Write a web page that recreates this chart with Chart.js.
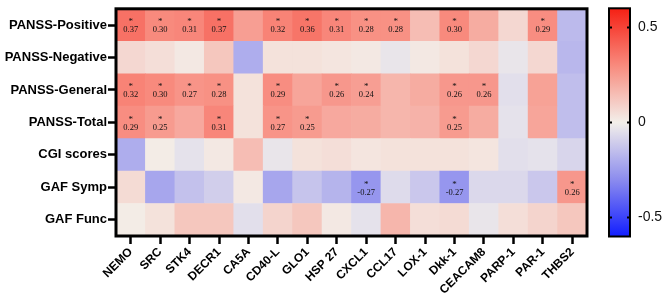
<!DOCTYPE html>
<html>
<head>
<meta charset="utf-8">
<script src="https://cdn.jsdelivr.net/npm/chart.js@4.4.1/dist/chart.umd.min.js"></script>
<style>
  html, body { margin: 0; padding: 0; background: #fff; }
</style>
</head>
<body>
<canvas id="heat" width="663" height="300"></canvas>
<script>
// genes on x, clinical scales on y (top to bottom)
const genes = ['NEMO', 'SRC', 'STK4', 'DECR1', 'CA5A', 'CD40-L', 'GLO1', 'HSP 27',
               'CXCL1', 'CCL17', 'LOX-1', 'Dkk-1', 'CEACAM8', 'PARP-1', 'PAR-1', 'THBS2'];
const clinScales = ['PANSS-Positive', 'PANSS-Negative', 'PANSS-General', 'PANSS-Total',
                    'CGI scores', 'GAF Symp', 'GAF Func'];

// correlation values per scale
const panssPositive = [0.37, 0.30, 0.31, 0.37, 0.24, 0.32, 0.36, 0.31, 0.28, 0.28, 0.15, 0.30, 0.20, 0.07, 0.29, -0.16];
const panssNegative = [0.07, 0.05, 0.02, 0.12, -0.20, 0.04, 0.04, 0.03, 0.02, -0.03, 0.02, 0.04, 0.07, -0.03, 0.07, -0.17];
const panssGeneral  = [0.32, 0.30, 0.27, 0.28, 0.04, 0.29, 0.22, 0.26, 0.24, 0.17, 0.20, 0.26, 0.26, -0.05, 0.23, -0.15];
const panssTotal    = [0.29, 0.25, 0.21, 0.31, 0.04, 0.27, 0.25, 0.21, 0.20, 0.17, 0.18, 0.25, 0.20, -0.04, 0.22, -0.15];
const cgiScores     = [-0.20, 0.01, -0.04, 0.02, 0.15, -0.03, 0.04, 0.05, 0.03, 0.04, 0.04, 0.04, 0.03, -0.05, -0.04, -0.08];
const gafSymp       = [0.06, -0.22, -0.14, -0.10, 0.02, -0.22, -0.13, -0.18, -0.27, -0.06, -0.12, -0.27, -0.07, -0.07, -0.12, 0.26];
const gafFunc       = [0.01, 0.04, 0.12, 0.12, -0.05, 0.08, 0.12, 0.02, -0.04, 0.17, 0.05, 0.06, -0.03, 0.05, 0.08, 0.12];
const rowValues = [panssPositive, panssNegative, panssGeneral, panssTotal, cgiScores, gafSymp, gafFunc];

// significant cells (shown with * and value)
const sigPositive = ['NEMO', 'SRC', 'STK4', 'DECR1', 'CD40-L', 'GLO1', 'HSP 27', 'CXCL1', 'CCL17', 'Dkk-1', 'PAR-1'];
const sigGeneral  = ['NEMO', 'SRC', 'STK4', 'DECR1', 'CD40-L', 'HSP 27', 'CXCL1', 'Dkk-1', 'CEACAM8'];
const sigTotal    = ['NEMO', 'SRC', 'DECR1', 'CD40-L', 'GLO1', 'Dkk-1'];
const sigGafSymp  = ['CXCL1', 'Dkk-1', 'THBS2'];
const rowSig = [sigPositive, [], sigGeneral, sigTotal, [], sigGafSymp, []];

// colour bar
const cbMin = -0.6, cbMax = 0.6;
const cbTicks = [0.5, 0, -0.5];

// blue - white - red colour map
const cmapStops = [
  [-0.6, [18, 30, 255]],
  [-0.3, [140, 140, 238]],
  [0.0, [243, 239, 234]],
  [0.3, [248, 138, 125]],
  [0.6, [245, 32, 20]]
];
function cmap(v) {
  v = Math.max(cbMin, Math.min(cbMax, v));
  for (let i = 0; i < cmapStops.length - 1; i++) {
    const a = cmapStops[i], b = cmapStops[i + 1];
    if (v <= b[0]) {
      const t = (v - a[0]) / (b[0] - a[0]);
      const c = a[1].map((x, k) => Math.round(x + (b[1][k] - x) * t));
      return 'rgb(' + c.join(',') + ')';
    }
  }
  return 'rgb(' + cmapStops[cmapStops.length - 1][1].join(',') + ')';
}

// stacked bars: first dataset at the bottom, so reverse the rows
const datasets = clinScales.map((name, r) => ({
  label: name,
  rowIndex: r,
  data: genes.map(() => 1),
  backgroundColor: rowValues[r].map(cmap),
  borderWidth: 0,
  barPercentage: 1,
  categoryPercentage: 1
})).reverse();

const labelFont = { family: 'Liberation Sans, Arial, sans-serif', size: 13, weight: 'bold' };

const heatPlugin = {
  id: 'heatExtras',
  afterDatasetsDraw(chart) {
    const ctx = chart.ctx;
    const area = chart.chartArea;
    // cell annotations
    ctx.save();
    ctx.fillStyle = '#111';
    ctx.textAlign = 'center';
    ctx.textBaseline = 'middle';
    chart.data.datasets.forEach((ds, di) => {
      const meta = chart.getDatasetMeta(di);
      const r = ds.rowIndex;
      meta.data.forEach((bar, gi) => {
        if (rowSig[r].indexOf(genes[gi]) < 0) return;
        const cy = (bar.y + bar.base) / 2;
        ctx.font = '9px "Liberation Serif", "Times New Roman", serif';
        ctx.fillText('*', bar.x, cy - 3);
        ctx.font = '8.5px "Liberation Serif", "Times New Roman", serif';
        ctx.fillText(rowValues[r][gi].toFixed(2), bar.x, cy + 5);
      });
    });
    ctx.restore();

    // frame
    ctx.save();
    ctx.strokeStyle = '#000';
    ctx.lineWidth = 3;
    ctx.strokeRect(area.left, area.top, area.right - area.left, area.bottom - area.top);
    ctx.restore();

    // colour bar
    const cbLeft = area.right + 22, cbW = 21;
    const cbTop = area.top - 0.5, cbBot = area.bottom + 0.5;
    const yOf = v => cbTop + (cbMax - v) / (cbMax - cbMin) * (cbBot - cbTop);
    ctx.save();
    const grad = ctx.createLinearGradient(0, cbTop, 0, cbBot);
    for (let i = 0; i <= 24; i++) {
      const v = cbMax - (cbMax - cbMin) * i / 24;
      grad.addColorStop(i / 24, cmap(v));
    }
    ctx.fillStyle = grad;
    ctx.fillRect(cbLeft, cbTop, cbW, cbBot - cbTop);
    ctx.strokeStyle = '#000';
    ctx.lineWidth = 2;
    ctx.strokeRect(cbLeft, cbTop, cbW, cbBot - cbTop);
    ctx.fillStyle = '#111';
    ctx.font = '14px "Liberation Sans", Arial, sans-serif';
    ctx.textAlign = 'left';
    ctx.textBaseline = 'middle';
    cbTicks.forEach(v => {
      const y = Math.round(yOf(v)) + 0.5;
      ctx.beginPath();
      ctx.moveTo(cbLeft, y); ctx.lineTo(cbLeft + 3, y);
      ctx.moveTo(cbLeft + cbW - 3, y); ctx.lineTo(cbLeft + cbW, y);
      ctx.stroke();
      ctx.fillText(v === 0 ? '0' : String(v), cbLeft + cbW + 8, y);
    });
    ctx.restore();
  }
};

new Chart(document.getElementById('heat'), {
  type: 'bar',
  data: { labels: genes, datasets: datasets },
  plugins: [heatPlugin],
  options: {
    responsive: false,
    devicePixelRatio: 1,
    animation: false,
    layout: { padding: { top: 2, right: 76, left: 0, bottom: 0 } },
    plugins: { legend: { display: false }, tooltip: { enabled: false } },
    scales: {
      x: {
        stacked: true,
        grid: { offset: false, drawOnChartArea: false, tickLength: 8, tickWidth: 2.5, tickColor: '#000' },
        border: { display: false },
        ticks: { color: '#000', font: { family: 'Liberation Sans, Arial, sans-serif', size: 12, weight: 'bold' },
                 minRotation: 45, maxRotation: 45, padding: 1, autoSkip: false },
        afterFit: s => { s.height = 64; }
      },
      y: {
        stacked: true,
        min: 0,
        max: clinScales.length,
        grid: { drawOnChartArea: false, tickLength: 8, tickWidth: 2.5, tickColor: '#000' },
        border: { display: false },
        afterBuildTicks: s => { s.ticks = clinScales.map((_, i) => ({ value: clinScales.length - 0.5 - i })); },
        ticks: {
          color: '#000',
          font: labelFont,
          padding: 1,
          callback: v => clinScales[Math.round(clinScales.length - 0.5 - v)]
        },
        afterFit: s => { s.width = 116; }
      }
    }
  }
});
</script>
</body>
</html>
